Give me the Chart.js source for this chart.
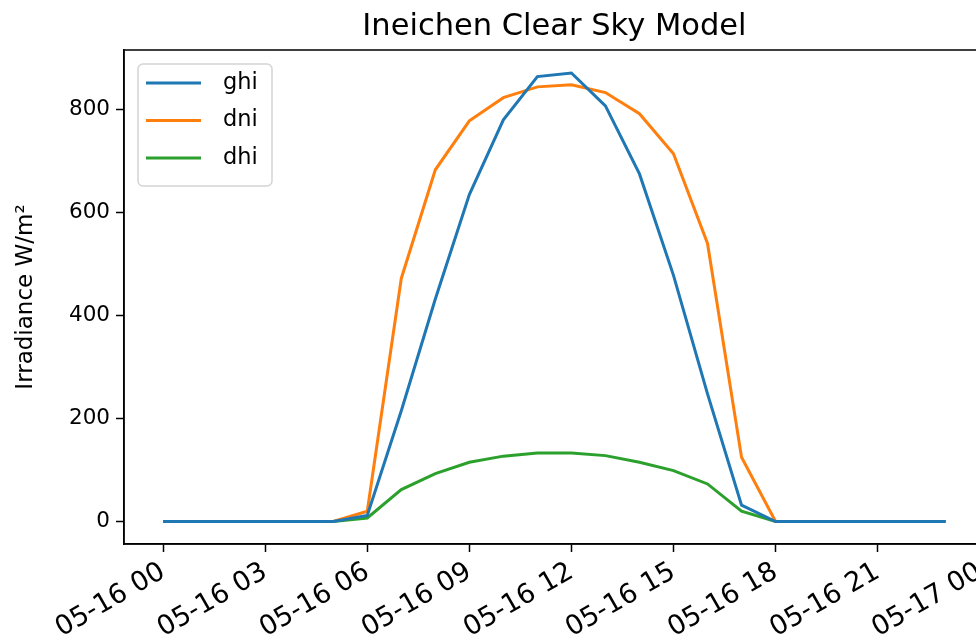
<!DOCTYPE html>
<html>
<head>
<meta charset="utf-8">
<script src="https://cdn.jsdelivr.net/npm/chart.js@4.4.1/dist/chart.umd.min.js"></script>
<style>
  html, body { margin: 0; padding: 0; background: #fff; overflow: hidden; width: 976px; height: 639px; }
  #wrap { width: 1000px; height: 639px; }
</style>
</head>
<body>
<div id="wrap"><canvas id="c" width="1000" height="639"></canvas></div>
<script>
// ---- data (hourly, 2016-05-16) ----
const hours = [0,1,2,3,4,5,6,7,8,9,10,11,12,13,14,15,16,17,18,19,20,21,22,23];
const ghi = [0,0,0,0,0,0,12,215,432,635,780,864,871,807,675,478,248,32,0,0,0,0,0,0];
const dni = [0,0,0,0,0,0,20,472,683,778,823,844,848,833,792,714,540,125,0,0,0,0,0,0];
const dhi = [0,0,0,0,0,0,7,62,93,115,127,133,133,128,115,99,73,20,0,0,0,0,0,0];
const tickHours = [0,3,6,9,12,15,18,21,24];
const tickLabels = ['05-16 00','05-16 03','05-16 06','05-16 09','05-16 12','05-16 15','05-16 18','05-16 21','05-17 00'];
const yTicks = [0,200,400,600,800];
const seriesNames = ['ghi','dni','dhi'];
const seriesColors = ['#1f77b4','#ff7f0e','#2ca02c'];

const FONT = "'DejaVu Sans', sans-serif";
const series = [ghi, dni, dhi];

function roundRect(ctx, x0, y0, x1, y1, r) {
  ctx.beginPath();
  ctx.moveTo(x0 + r, y0);
  ctx.arcTo(x1, y0, x1, y1, r);
  ctx.arcTo(x1, y1, x0, y1, r);
  ctx.arcTo(x0, y1, x0, y0, r);
  ctx.arcTo(x0, y0, x1, y0, r);
  ctx.closePath();
}

const frameAndLegend = {
  id: 'frameAndLegend',
  afterDatasetsDraw(chart) {
    const a = chart.chartArea, ctx = chart.ctx;
    ctx.save();
    ctx.strokeStyle = '#000';
    ctx.lineWidth = 1.5;
    ctx.strokeRect(a.left, a.top, a.right - a.left, a.bottom - a.top);
    // legend (matplotlib-style, upper left inside axes)
    const x0 = a.left + 14, y0 = a.top + 14;
    const w = 134, h = 122;
    ctx.fillStyle = 'rgba(255,255,255,0.8)';
    roundRect(ctx, x0, y0, x0 + w, y0 + h, 5);
    ctx.fill();
    ctx.strokeStyle = '#d4d4d4';
    ctx.lineWidth = 1.5;
    ctx.stroke();
    ctx.font = '22.5px ' + FONT;
    ctx.textBaseline = 'middle';
    ctx.textAlign = 'left';
    chart.data.datasets.forEach((ds, i) => {
      const yy = y0 + 19 + i * 37.5;
      ctx.strokeStyle = ds.borderColor;
      ctx.lineWidth = 3;
      ctx.beginPath();
      ctx.moveTo(x0 + 8, yy);
      ctx.lineTo(x0 + 63, yy);
      ctx.stroke();
      ctx.fillStyle = '#000';
      ctx.fillText(ds.label, x0 + 85, yy);
    });
    ctx.restore();
  }
};

new Chart(document.getElementById('c'), {
  type: 'line',
  data: {
    datasets: seriesNames.map((n, i) => ({
      label: n,
      data: hours.map((h, k) => ({x: h, y: series[i][k]})),
      borderColor: seriesColors[i],
      backgroundColor: seriesColors[i],
      borderWidth: 3,
      pointRadius: 0,
      tension: 0,
      fill: false
    }))
  },
  options: {
    responsive: false,
    animation: false,
    devicePixelRatio: 1,
    layout: { padding: { left: 0, right: 15, top: 0, bottom: 0 } },
    plugins: {
      title: {
        display: true,
        text: 'Ineichen Clear Sky Model',
        fullSize: false,
        color: '#000',
        font: { family: FONT, size: 30.5, weight: 'normal' },
        padding: { top: 9, bottom: 4.4 }
      },
      legend: { display: false },
      tooltip: { enabled: false }
    },
    scales: {
      x: {
        type: 'linear',
        min: -1.15,
        max: 24.15,
        afterBuildTicks: (s) => { s.ticks = tickHours.map(v => ({value: v})); },
        afterFit: (s) => { s.height = 95; },
        grid: { display: true, drawOnChartArea: false, drawTicks: true, tickLength: 8, tickWidth: 1.5, tickColor: '#000' },
        border: { display: true, color: '#000', width: 1.5 },
        ticks: {
          autoSkip: false,
          maxRotation: 30,
          minRotation: 30,
          padding: 4,
          color: '#000',
          font: { family: FONT, size: 27 },
          callback: (v) => { const i = tickHours.indexOf(v); return i >= 0 ? tickLabels[i] : ''; }
        }
      },
      y: {
        min: -43.6,
        max: 915.6,
        afterBuildTicks: (s) => { s.ticks = yTicks.map(v => ({value: v})); },
        afterFit: (s) => { s.width = 124; },
        grid: { display: true, drawOnChartArea: false, drawTicks: true, tickLength: 8, tickWidth: 1.5, tickColor: '#000' },
        border: { display: true, color: '#000', width: 1.5 },
        title: {
          display: true,
          text: 'Irradiance W/m²',
          color: '#000',
          font: { family: FONT, size: 23 },
          padding: { top: 12, bottom: 0 }
        },
        ticks: {
          padding: 6,
          color: '#000',
          font: { family: FONT, size: 21.5 },
          callback: (v) => String(v)
        }
      }
    }
  },
  plugins: [frameAndLegend]
});
</script>
</body>
</html>
